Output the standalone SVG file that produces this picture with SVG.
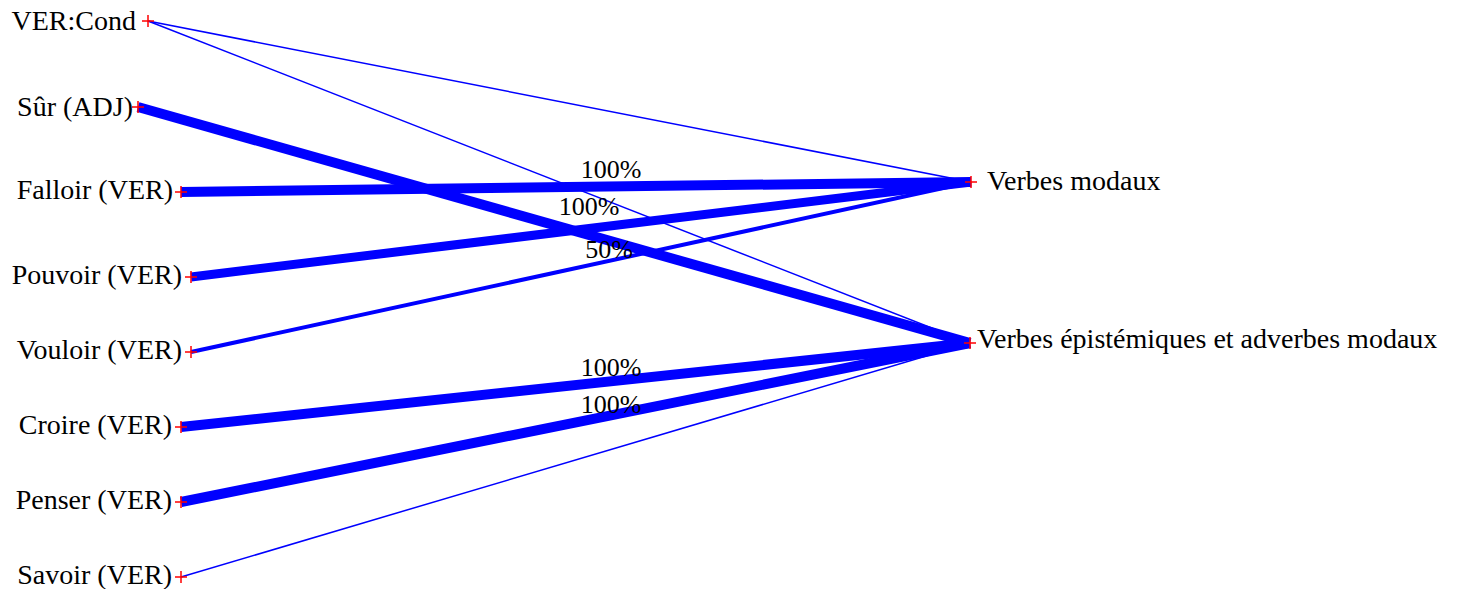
<svg xmlns="http://www.w3.org/2000/svg" width="1469" height="589" viewBox="0 0 1469 589">
<defs>
<style>
.lbl{font-family:"Liberation Serif","Times New Roman",serif;font-size:28px;fill:#000}
.pct{font-family:"Liberation Serif","Times New Roman",serif;font-size:26px;fill:#000;text-anchor:middle}
.e{stroke:#0000ff;fill:none}
.x{stroke:#ff0000;stroke-width:1.5}
</style>
<path id="cross" class="x" d="M-6,0H6M0,-6V6"/>
</defs>
<rect width="1469" height="589" fill="#fff"/>
<g id="connectors">
<line class="e" x1="148" y1="21" x2="971" y2="182" stroke-width="1.5"/>
<line class="e" x1="148" y1="21" x2="970" y2="343" stroke-width="1.5"/>
<line class="e" x1="138" y1="107" x2="970" y2="343" stroke-width="10"/>
<line class="e" x1="181" y1="192" x2="971" y2="182" stroke-width="10"/>
<line class="e" x1="191" y1="277" x2="971" y2="182" stroke-width="9"/>
<line class="e" x1="191" y1="352" x2="971" y2="182" stroke-width="4"/>
<line class="e" x1="181" y1="427" x2="970" y2="343" stroke-width="10"/>
<line class="e" x1="181" y1="502" x2="970" y2="343" stroke-width="10"/>
<line class="e" x1="181" y1="577" x2="970" y2="343" stroke-width="1.5"/>
<text class="pct" x="611" y="178">100%</text>
<text class="pct" x="589" y="215">100%</text>
<text class="pct" x="609" y="258">50%</text>
<text class="pct" x="611" y="376">100%</text>
<text class="pct" x="611" y="413">100%</text>
</g>
<g id="n-vercond"><use href="#cross" x="148" y="21"/><text class="lbl" x="136" y="30" text-anchor="end">VER:Cond</text></g>
<g id="n-sur"><use href="#cross" x="138" y="107"/><text class="lbl" x="133" y="116" text-anchor="end">Sûr (ADJ)</text></g>
<g id="n-falloir"><use href="#cross" x="181" y="192"/><text class="lbl" x="173" y="199" text-anchor="end">Falloir (VER)</text></g>
<g id="n-pouvoir"><use href="#cross" x="191" y="277"/><text class="lbl" x="182" y="284" text-anchor="end">Pouvoir (VER)</text></g>
<g id="n-vouloir"><use href="#cross" x="191" y="352"/><text class="lbl" x="182" y="359" text-anchor="end">Vouloir (VER)</text></g>
<g id="n-croire"><use href="#cross" x="181" y="427"/><text class="lbl" x="172" y="434" text-anchor="end">Croire (VER)</text></g>
<g id="n-penser"><use href="#cross" x="181" y="502"/><text class="lbl" x="172" y="509" text-anchor="end">Penser (VER)</text></g>
<g id="n-savoir"><use href="#cross" x="181" y="577"/><text class="lbl" x="172" y="584" text-anchor="end">Savoir (VER)</text></g>
<g id="n-modaux"><use href="#cross" x="971" y="182"/><text class="lbl" x="987" y="190">Verbes modaux</text></g>
<g id="n-epist"><use href="#cross" x="970" y="343"/><text class="lbl" x="977" y="348">Verbes épistémiques et adverbes modaux</text></g>
</svg>
